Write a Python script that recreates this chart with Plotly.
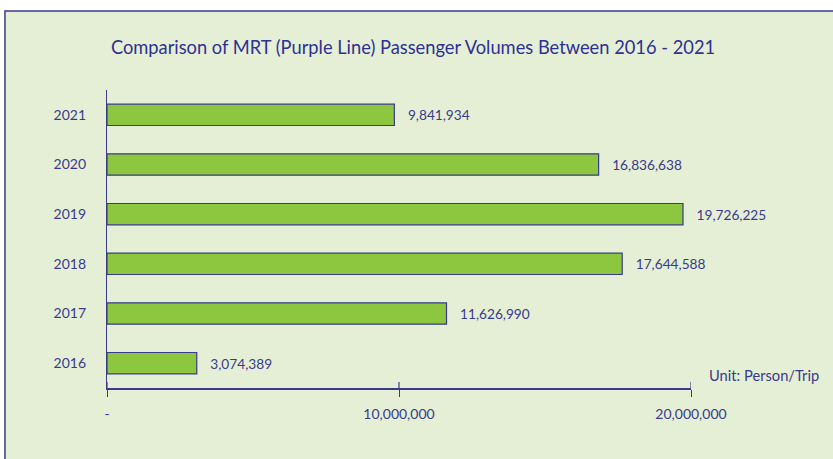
import plotly.graph_objects as go

years = ["2016", "2017", "2018", "2019", "2020", "2021"]
passengers = [3074389, 11626990, 17644588, 19726225, 16836638, 9841934]
tick_values = [0, 10000000, 20000000]
tick_labels = ["-", "10,000,000", "20,000,000"]

NAVY = "#3a3a8c"
TITLE_NAVY = "#2e3192"
BG = "#e4efd6"
FONT = "Lato"

fig = go.Figure()
fig.add_trace(go.Bar(
    x=passengers, y=years, orientation="h",
    marker=dict(color="#8dc63f", line=dict(color=NAVY, width=1.2)),
    width=0.43,
    text=["   " + f"{v:,}" for v in passengers],
    textposition="outside", cliponaxis=False,
    textfont=dict(family=FONT, size=13.7, color=NAVY),
    hoverinfo="skip",
))

# background box with top/left border
fig.add_shape(type="rect", xref="paper", yref="paper",
              x0=-0.1747, x1=1.3, y0=-0.3, y1=1.265,
              fillcolor=BG, line=dict(color=NAVY, width=1.5), layer="below")

# upward half of cross ticks
for tv in tick_values:
    fig.add_shape(type="line", xref="x", yref="paper", x0=tv, x1=tv,
                  y0=0, y1=6/298, line=dict(color=NAVY, width=1.2))

fig.add_annotation(text="Unit: Person/Trip", xref="paper", yref="paper",
                   x=1.0275, y=0.044, xanchor="left", yanchor="middle",
                   showarrow=False, font=dict(family=FONT, size=14.7, color=NAVY))

fig.update_layout(
    width=833, height=459,
    margin=dict(l=107, r=142, t=90, b=71),
    paper_bgcolor="white", plot_bgcolor="rgba(0,0,0,0)",
    title=dict(text="Comparison of MRT (Purple Line) Passenger Volumes Between 2016 - 2021",
               x=0.524, xref="paper", xanchor="center", y=1 - 48/459, yanchor="middle",
               font=dict(family=FONT, size=18.3, color=TITLE_NAVY)),
    showlegend=False,
    font=dict(family=FONT, color=NAVY),
)
fig.update_xaxes(range=[0, 20000000], tickvals=tick_values, ticktext=tick_labels,
                 showgrid=False, zeroline=False, showline=True, linecolor=NAVY, linewidth=1.5,
                 ticks="outside", ticklen=7, tickcolor=NAVY, tickwidth=1.2,
                 ticklabelstandoff=5, tickfont=dict(family=FONT, size=14, color=NAVY))
fig.update_yaxes(type="category", categoryorder="array", categoryarray=years,
                 range=[-0.5, 5.5], showgrid=False, zeroline=False,
                 showline=True, linecolor=NAVY, linewidth=1.2, ticks="",
                 ticklabelstandoff=17, tickfont=dict(family=FONT, size=14, color=NAVY))

fig.write_html("out.html", config={"displayModeBar": False},
               post_script="document.body.style.margin='0';")
